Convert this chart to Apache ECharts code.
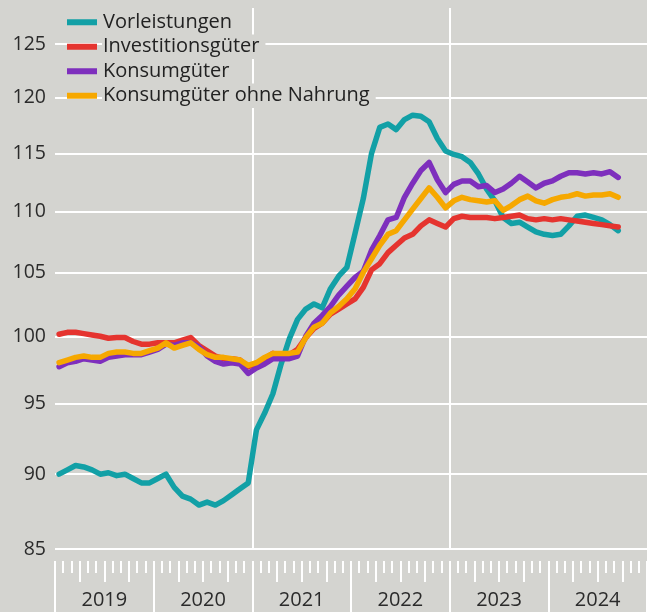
<!DOCTYPE html>
<html>
<head>
<meta charset="utf-8">
<script src="https://cdn.jsdelivr.net/npm/echarts@6/dist/echarts.min.js"></script>
<style>
html,body{margin:0;padding:0;background:#d4d4d0}
#chart{width:647px;height:612px}
</style>
</head>
<body>
<div id="chart"></div>
<script>
// monthly index values, Jan 2019 .. Sep 2024
var firstYear = 2019;
var seriesNames = ['Vorleistungen', 'Investitionsgüter', 'Konsumgüter', 'Konsumgüter ohne Nahrung'];
var seriesColors = ['#12a0a6', '#e5342f', '#7e2fbd', '#f6a800'];

var vorleistungen = [
    90.0, 90.3, 90.6, 90.5, 90.3, 90.0, 90.1, 89.9, 90.0, 89.7, 89.4, 89.4,
    89.7, 90.0, 89.1, 88.5, 88.3, 87.9, 88.1, 87.9, 88.2, 88.6, 89.0, 89.4,
    93.1, 94.3, 95.7, 97.9, 99.8, 101.3, 102.1, 102.5, 102.2, 103.7, 104.7, 105.4,
    108.2, 111.1, 115.0, 117.3, 117.6, 117.1, 118.0, 118.4, 118.3, 117.8, 116.3, 115.2,
    114.9, 114.7, 114.2, 113.2, 111.9, 110.9, 109.5, 109.0, 109.1, 108.7, 108.3, 108.1,
    108.0, 108.1, 108.8, 109.6, 109.7, 109.5, 109.3, 108.9, 108.4
];
var investitionsgueter = [
    100.15, 100.3, 100.3, 100.2, 100.1, 100.0, 99.85, 99.9, 99.9, 99.6, 99.4, 99.4,
    99.5, 99.5, 99.5, 99.7, 99.9, 99.3, 98.9, 98.5, 98.3, 98.3, 98.2, 97.7,
    97.9, 98.3, 98.7, 98.5, 98.6, 99.0, 99.9, 100.6, 101.0, 101.7, 102.1, 102.5,
    102.9, 103.8, 105.2, 105.7, 106.6, 107.2, 107.8, 108.1, 108.8, 109.3, 109.0, 108.7,
    109.4, 109.6, 109.5, 109.5, 109.5, 109.4, 109.5, 109.6, 109.7, 109.4, 109.3, 109.4,
    109.3, 109.4, 109.3, 109.2, 109.1, 109.0, 108.9, 108.8, 108.7
];
var konsumgueter = [
    97.7, 98.0, 98.1, 98.3, 98.2, 98.1, 98.4, 98.5, 98.6, 98.6, 98.6, 98.8,
    99.0, 99.4, 99.3, 99.5, 99.5, 99.2, 98.5, 98.1, 97.9, 98.0, 97.9, 97.2,
    97.6, 97.9, 98.3, 98.3, 98.3, 98.5, 100.0, 101.0, 101.6, 102.3, 103.2, 103.9,
    104.6, 105.1, 106.8, 108.0, 109.3, 109.5, 111.2, 112.4, 113.5, 114.2, 112.7, 111.6,
    112.3, 112.6, 112.6, 112.1, 112.2, 111.6, 111.9, 112.4, 113.0, 112.5, 112.0, 112.4,
    112.6, 113.0, 113.3, 113.3, 113.2, 113.3, 113.2, 113.4, 112.9
];
var konsumOhneNahrung = [
    98.0, 98.2, 98.4, 98.5, 98.4, 98.4, 98.7, 98.8, 98.8, 98.7, 98.7, 98.9,
    99.1, 99.5, 99.1, 99.3, 99.5, 99.0, 98.6, 98.4, 98.4, 98.3, 98.2, 97.8,
    98.0, 98.4, 98.7, 98.7, 98.7, 98.8, 99.9, 100.7, 101.0, 101.8, 102.3, 102.9,
    103.7, 105.0, 106.1, 107.2, 108.1, 108.4, 109.3, 110.2, 111.1, 112.0, 111.2, 110.3,
    110.9, 111.2, 111.0, 110.9, 110.8, 110.9, 110.1, 110.5, 111.0, 111.3, 110.9, 110.7,
    111.0, 111.2, 111.3, 111.5, 111.3, 111.4, 111.4, 111.5, 111.2
];

var yTicks = [85, 90, 95, 100, 105, 110, 115, 120, 125];
var yearLabels = ['2019', '2020', '2021', '2022', '2023', '2024'];
var yearGridLines = [24, 48];   // Jan 2021, Jan 2023 (months from Jan 2019)

var bg = '#d4d4d0';
var font = 'Open Sans';

function toPoints(values){
    // each month is plotted in the middle of its slot
    return values.map(function(v, i){ return [i + 0.5, v]; });
}

var lines = [vorleistungen, investitionsgueter, konsumgueter, konsumOhneNahrung];

var gridMarks = [];
yTicks.forEach(function(t){
    gridMarks.push({ yAxis: t });
});
yearGridLines.forEach(function(m){
    gridMarks.push({ xAxis: m, label: { show: false } });
});

var series = [{
    type: 'line',
    data: [],
    silent: true,
    z: 1,
    markLine: {
        silent: true,
        z: 1,
        animation: false,
        symbol: ['none', 'none'],
        lineStyle: { color: '#ffffff', width: 2, type: 'solid' },
        label: {
            show: true,
            position: 'start',
            distance: 9,
            formatter: '{c}',
            color: '#2b2b2b',
            fontSize: 19.5,
            fontFamily: font
        },
        emphasis: { disabled: true },
        data: gridMarks
    }
}];
lines.forEach(function(vals, k){
    series.push({
        name: seriesNames[k],
        type: 'line',
        data: toPoints(vals),
        showSymbol: false,
        symbol: 'none',
        smooth: false,
        z: 2 + k,
        lineStyle: { color: seriesColors[k], width: 5.5, join: 'round', cap: 'round' },
        itemStyle: { color: seriesColors[k] }
    });
});

function monthAxis(interval, len, withLabels){
    return {
        type: 'value',
        position: 'bottom',
        min: 0,
        max: 72,
        interval: interval,
        offset: 12,
        axisLine: { show: false },
        splitLine: { show: false },
        axisTick: { show: true, length: len, lineStyle: { color: '#ffffff', width: 2 } },
        axisLabel: withLabels ? {
            show: true,
            customValues: yearLabels.map(function(y, i){ return i * 12 + 6; }),
            formatter: function(v){ return String(firstYear + Math.round((v - 6) / 12)); },
            margin: 29,
            color: '#2b2b2b',
            fontSize: 20,
            fontFamily: font
        } : { show: false }
    };
}

var option = {
    backgroundColor: bg,
    animation: false,
    textStyle: { fontFamily: font },
    grid: { left: 55, right: -2, top: 8, bottom: 63 },
    legend: {
        orient: 'vertical',
        left: 67,
        top: 10,
        padding: 0,
        itemGap: 0,
        itemWidth: 30,
        itemHeight: 6,
        icon: 'rect',
        selectedMode: false,
        data: seriesNames,
        textStyle: {
            fontSize: 20,
            color: '#222',
            fontFamily: font,
            lineHeight: 22.5,
            backgroundColor: bg,
            padding: [1, 6, 1, 1]
        }
    },
    xAxis: [
        monthAxis(1, 12, true),
        monthAxis(3, 21, false),
        monthAxis(12, 60, false)
    ],
    yAxis: {
        type: 'log',
        logBase: 10,
        min: 85,
        max: 128.5,
        axisLine: { show: false },
        axisTick: { show: false },
        axisLabel: { show: false },
        splitLine: { show: false }
    },
    series: series
};

var myChart = echarts.init(document.getElementById('chart'));
myChart.setOption(option);
</script>
</body>
</html>
